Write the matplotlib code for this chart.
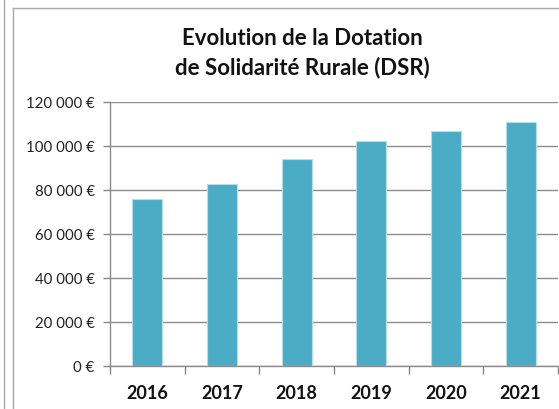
import matplotlib
matplotlib.use("Agg")
import matplotlib.pyplot as plt
from matplotlib.lines import Line2D
import numpy as np

years = ["2016", "2017", "2018", "2019", "2020", "2021"]
dsr = [75700, 82900, 94200, 102200, 106900, 111000]
yticks = [0, 20000, 40000, 60000, 80000, 100000, 120000]
ytick_labels = ["0 €", "20 000 €", "40 000 €", "60 000 €", "80 000 €", "100 000 €", "120 000 €"]
title = "Evolution de la Dotation\nde Solidarité Rurale (DSR)"

W, H = 559, 410
fig = plt.figure(figsize=(W / 100, H / 100), dpi=100)
fig.patch.set_facecolor("white")

ax = fig.add_axes([110 / W, (H - 367) / H, (558 - 110) / W, (367 - 103) / H])
x = np.arange(len(years))
ax.bar(x, dsr, width=0.4, color="#4BACC6", edgecolor="#b7dde8", linewidth=0.8, zorder=3)

ax.set_xlim(-0.5, len(years) - 0.5)
ax.set_ylim(0, 120000)
ax.set_yticks(yticks)
ax.set_yticklabels(ytick_labels, fontsize=10.8, color="#222222", fontfamily="Lato")
ax.tick_params(axis="y", length=5, width=1, color="#888888", pad=6)

ax.set_xticks(np.arange(-0.5, len(years)), minor=False)
ax.set_xticklabels([])
ax.tick_params(axis="x", which="major", length=6, width=1, color="#888888")
ax.set_xticks(x, minor=True)
ax.set_xticklabels(years, minor=True, fontsize=13, fontweight="bold", fontfamily="Lato", color="#111111")
ax.tick_params(axis="x", which="minor", length=0, pad=13)

ax.grid(axis="y", color="#8c8c8c", linewidth=1, zorder=0)
for s in ["top", "right"]:
    ax.spines[s].set_visible(False)
for s in ["left", "bottom"]:
    ax.spines[s].set_color("#8c8c8c")
    ax.spines[s].set_linewidth(1)

fig.text(302 / W, 1 - 28 / H, title, ha="center", va="top", fontsize=16,
         fontweight="bold", fontfamily="Lato", linespacing=1.42, color="#111111")

fc = "#a8a8a8"
fig.add_artist(Line2D([3.5 / W, 3.5 / W], [0, 1], color=fc, lw=1, transform=fig.transFigure))
fig.add_artist(Line2D([13 / W, 13 / W], [0, 1 - 9 / H], color=fc, lw=1, transform=fig.transFigure))
fig.add_artist(Line2D([13 / W, 1], [1 - 9 / H, 1 - 9 / H], color=fc, lw=1, transform=fig.transFigure))

fig.savefig("out.png", dpi=100)
